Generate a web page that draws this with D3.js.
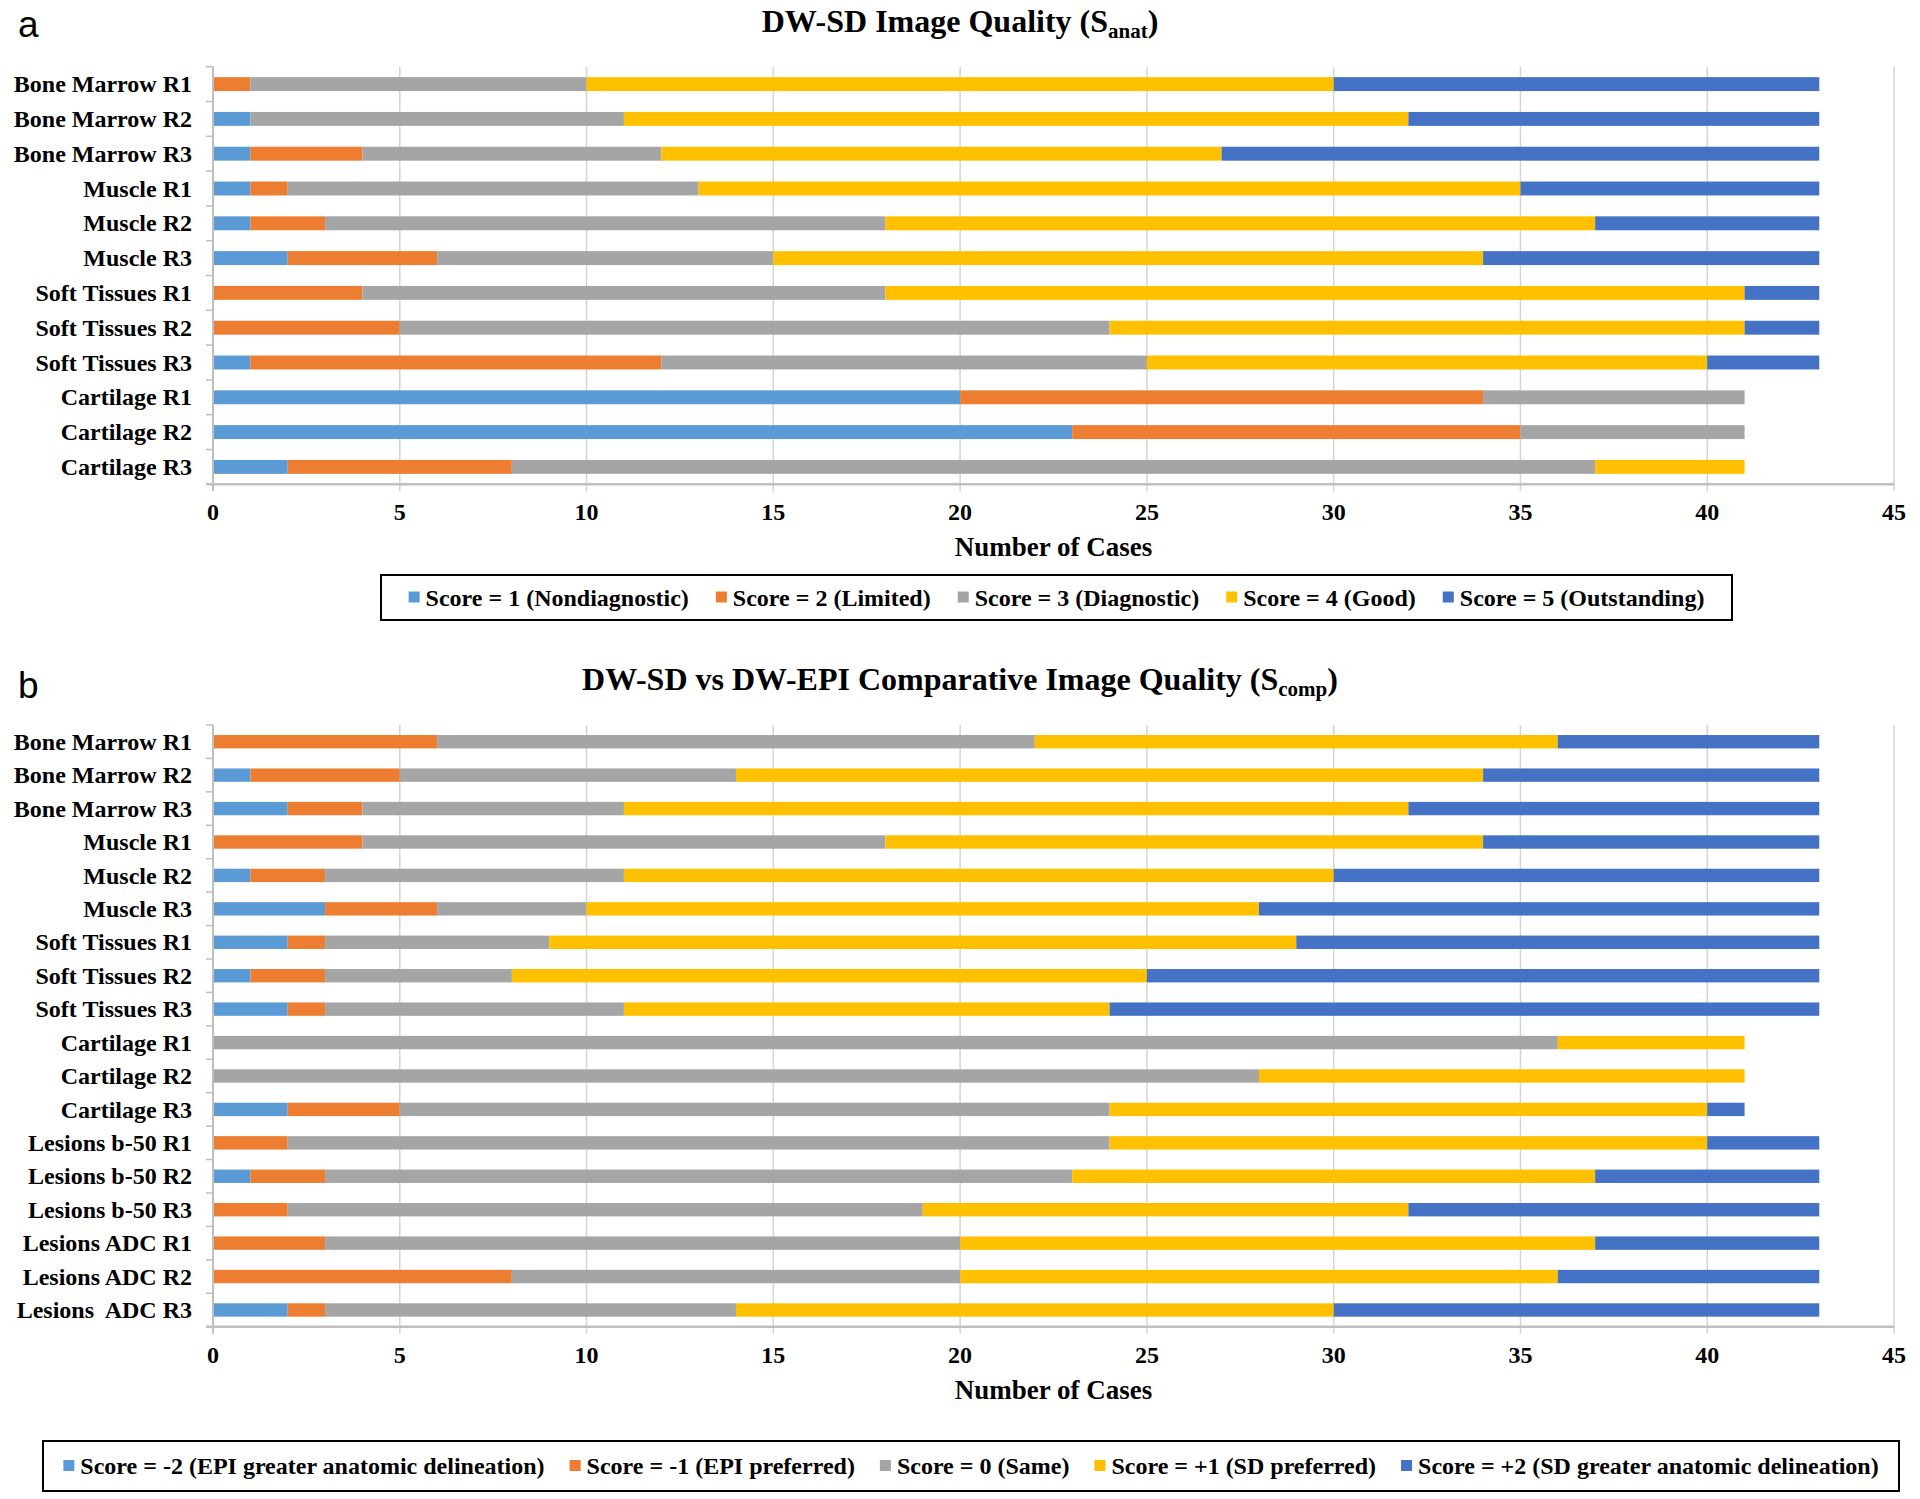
<!DOCTYPE html>
<html><head><meta charset="utf-8">
<script src="https://cdn.jsdelivr.net/npm/d3@7"></script>
<style>
body{margin:0;background:#fff}
svg text{font-family:"Liberation Serif","Times New Roman",serif;font-weight:bold;fill:#000}
</style>
</head><body>
<svg id="chart" width="1920" height="1499"></svg>
<script>
// ---------- Panel a data ----------
const categoriesA = ["Bone Marrow R1","Bone Marrow R2","Bone Marrow R3","Muscle R1","Muscle R2","Muscle R3",
  "Soft Tissues R1","Soft Tissues R2","Soft Tissues R3","Cartilage R1","Cartilage R2","Cartilage R3"];
const seriesNamesA = ["Score = 1 (Nondiagnostic)","Score = 2 (Limited)","Score = 3 (Diagnostic)","Score = 4 (Good)","Score = 5 (Outstanding)"];
const aScore1 = [0,1,1,1,1,2,0,0,1,20,23,2];
const aScore2 = [1,0,3,1,2,4,4,5,11,14,12,6];
const aScore3 = [9,10,8,11,15,9,14,19,13,7,6,29];
const aScore4 = [20,21,15,22,19,19,23,17,15,0,0,4];
const aScore5 = [13,11,16,8,6,9,2,2,3,0,0,0];

// ---------- Panel b data ----------
const categoriesB = ["Bone Marrow R1","Bone Marrow R2","Bone Marrow R3","Muscle R1","Muscle R2","Muscle R3",
  "Soft Tissues R1","Soft Tissues R2","Soft Tissues R3","Cartilage R1","Cartilage R2","Cartilage R3",
  "Lesions b-50 R1","Lesions b-50 R2","Lesions b-50 R3","Lesions ADC R1","Lesions ADC R2","Lesions  ADC R3"];
const seriesNamesB = ["Score = -2 (EPI greater anatomic delineation)","Score = -1 (EPI preferred)","Score = 0 (Same)","Score = +1 (SD preferred)","Score = +2 (SD greater anatomic delineation)"];
const bScoreM2 = [0,1,2,0,1,3,2,1,2,0,0,2,0,1,0,0,0,2];
const bScoreM1 = [6,4,2,4,2,3,1,2,1,0,0,3,2,2,2,3,8,1];
const bScore0  = [16,9,7,14,8,4,6,5,8,36,28,19,22,20,17,17,12,11];
const bScoreP1 = [14,20,21,16,19,18,20,17,13,5,13,16,16,14,13,17,16,16];
const bScoreP2 = [7,9,11,9,13,15,14,18,19,0,0,1,3,6,11,6,7,13];

const xTicks = [0,5,10,15,20,25,30,35,40,45];
const colors = ["#5B9BD5","#ED7D31","#A5A5A5","#FFC000","#4472C4"];

const svg = d3.select("#chart");

function drawPanel(p) {
  const g = svg.append("g");
  const keys = p.names;
  const table = p.categories.map((c, i) => {
    const row = {cat: c};
    p.series.forEach((s, k) => row[keys[k]] = s[i]);
    return row;
  });
  const stacked = d3.stack().keys(keys)(table);

  const x = d3.scaleLinear().domain([0, 45]).range([213, 1894]);
  const y = d3.scaleBand().domain(p.categories).range([p.top, p.bottom]).paddingInner(0.6).paddingOuter(0.3);
  const step = y.step();

  // gridlines (extend below axis as tick marks)
  g.append("g").selectAll("line").data(xTicks.slice(1)).join("line")
    .attr("x1", d => x(d)).attr("x2", d => x(d))
    .attr("y1", p.top).attr("y2", p.bottom + 7)
    .attr("stroke", "#d4d4d4").attr("stroke-width", 1.5);

  // bars
  g.append("g").selectAll("g").data(stacked).join("g")
    .attr("fill", (d, i) => colors[i])
    .selectAll("rect").data(d => d).join("rect")
    .attr("x", d => x(d[0]))
    .attr("width", d => Math.max(0, x(d[1]) - x(d[0])))
    .attr("y", d => y(d.data.cat))
    .attr("height", y.bandwidth());

  // left axis line + category ticks
  g.append("line").attr("x1", x(0)).attr("x2", x(0)).attr("y1", p.top).attr("y2", p.bottom + 7)
    .attr("stroke", "#bfbfbf").attr("stroke-width", 2);
  g.append("g").selectAll("line").data(d3.range(p.categories.length)).join("line")
    .attr("x1", x(0) - 7).attr("x2", x(0))
    .attr("y1", i => p.top + i * step).attr("y2", i => p.top + i * step)
    .attr("stroke", "#bfbfbf").attr("stroke-width", 1.5);
  // bottom axis line
  g.append("line").attr("x1", x(0) - 7).attr("x2", x(45)).attr("y1", p.bottom).attr("y2", p.bottom)
    .attr("stroke", "#bfbfbf").attr("stroke-width", 2.5);

  // x tick labels
  g.append("g").selectAll("text").data(xTicks).join("text")
    .attr("x", d => x(d)).attr("y", p.bottom + 36)
    .attr("text-anchor", "middle").attr("font-size", 24)
    .text(d => d);

  // category labels
  g.append("g").selectAll("text").data(p.categories).join("text")
    .attr("x", 192).attr("y", d => y(d) + y.bandwidth() / 2).attr("dy", "0.34em")
    .attr("text-anchor", "end").attr("font-size", 24)
    .style("white-space", "pre")
    .text(d => d);

  // axis title
  g.append("text").attr("x", (x(0) + x(45)) / 2).attr("y", p.bottom + 72)
    .attr("text-anchor", "middle").attr("font-size", 27).text("Number of Cases");

  // chart title with subscript
  const t = g.append("text").attr("x", 960).attr("y", p.titleY).attr("text-anchor", "middle").attr("font-size", 32);
  t.append("tspan").text(p.title);
  t.append("tspan").attr("font-size", 21).attr("dy", 6).text(p.sub);
  t.append("tspan").attr("dy", -6).text(")");

  // panel letter
  g.append("text").attr("x", 18).attr("y", p.letterY).attr("font-size", 37)
    .style("font-family", "'Liberation Sans', Arial, sans-serif").style("font-weight", "normal")
    .text(p.letter);

  // legend
  const lg = g.append("g");
  lg.append("rect").attr("x", p.legend.x0).attr("y", p.legend.y0)
    .attr("width", p.legend.x1 - p.legend.x0).attr("height", p.legend.y1 - p.legend.y0)
    .attr("fill", "none").attr("stroke", "#000").attr("stroke-width", 2);
  const cy = (p.legend.y0 + p.legend.y1) / 2;
  const items = lg.selectAll("g").data(keys).join("g");
  items.append("rect").attr("width", 11).attr("height", 11).attr("y", cy - 6).attr("fill", (d, i) => colors[i]);
  items.append("text").attr("x", 17).attr("y", cy + 8).attr("font-size", 24).text(d => d);
  const widths = [];
  items.each(function() { widths.push(17 + d3.select(this).select("text").node().getComputedTextLength()); });
  const gap = p.legend.gap;
  const total = d3.sum(widths) + gap * (widths.length - 1);
  let cx = (p.legend.x0 + p.legend.x1) / 2 - total / 2;
  items.each(function(d, i) {
    d3.select(this).attr("transform", `translate(${cx},0)`);
    cx += widths[i] + gap;
  });
}

drawPanel({
  categories: categoriesA, names: seriesNamesA,
  series: [aScore1, aScore2, aScore3, aScore4, aScore5],
  top: 66.7, bottom: 484.3,
  title: "DW-SD Image Quality (S", sub: "anat", titleY: 32,
  letter: "a", letterY: 37,
  legend: {x0: 381, x1: 1732, y0: 575, y1: 620, gap: 27}
});

drawPanel({
  categories: categoriesB, names: seriesNamesB,
  series: [bScoreM2, bScoreM1, bScore0, bScoreP1, bScoreP2],
  top: 725, bottom: 1326.7,
  title: "DW-SD vs DW-EPI Comparative Image Quality (S", sub: "comp", titleY: 690,
  letter: "b", letterY: 698,
  legend: {x0: 43, x1: 1899, y0: 1441, y1: 1491, gap: 25}
});
</script>
</body></html>
